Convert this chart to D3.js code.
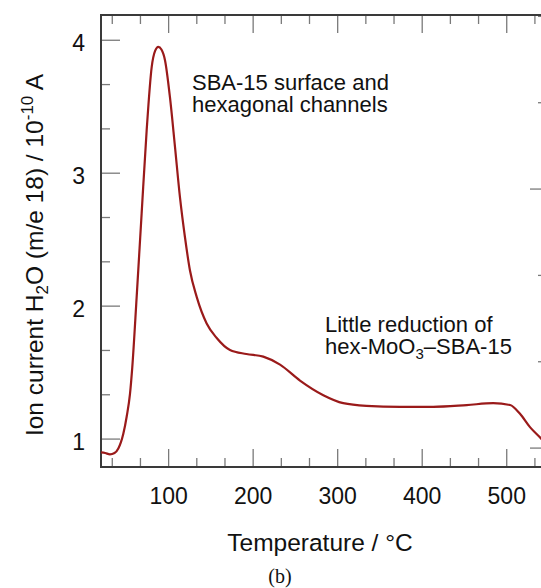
<!DOCTYPE html>
<html>
<head>
<meta charset="utf-8">
<script src="https://cdn.jsdelivr.net/npm/d3@7"></script>
<style>
  html, body { margin: 0; padding: 0; background: #fff; }
  svg { display: block; }
</style>
</head>
<body>
<div id="chart"></div>
<script>
// temperature (°C) and ion current (1e-10 A)
var temps = [20, 25, 30.6, 36, 40.5, 43.5, 46.4, 50.4, 54.3, 57, 62.2, 68.1, 74, 80, 84, 87.8, 91.5, 95.7, 101.6, 107.5, 113.4, 119.3, 125.2, 133.2, 145, 156.9, 172.6, 192, 212, 231.8, 255.4, 283, 306.6, 334, 373.7, 413, 452.6, 484, 504, 515.7, 527.5, 540.5, 548];
var current = [0.9, 0.895, 0.885, 0.895, 0.93, 0.975, 1.04, 1.17, 1.34, 1.54, 2.07, 2.70, 3.32, 3.80, 3.92, 3.95, 3.93, 3.85, 3.57, 3.20, 2.82, 2.52, 2.27, 2.07, 1.87, 1.76, 1.67, 1.64, 1.62, 1.56, 1.44, 1.33, 1.27, 1.25, 1.243, 1.243, 1.256, 1.27, 1.256, 1.19, 1.09, 1.005, 0.95];

var xMajor = [100, 200, 300, 400, 500];
var yMajor = [1, 2, 3, 4];
var y2Major = [1, 2];

(function() {
  var W = 541, H = 588;
  var mL = 101, mR = 549, mT = 15, mB = 467;
  var FONT = 'Arial, "Liberation Sans", Helvetica, sans-serif';

  var svg = d3.select('#chart').append('svg').attr('width', W).attr('height', H);

  var x = d3.scaleLinear().domain([20, 550]).range([mL, mR]);
  var y = d3.scaleLinear().domain([0.79, 4.19]).range([mB, mT]);
  var y2 = d3.scaleLinear().domain([0.927, 2.672]).range([mB, mT]);

  // tick values: majors plus thirds between them
  function thirds(dom) {
    var out = [];
    for (var k = Math.ceil(dom[0] * 3 - 1e-6); k <= Math.floor(dom[1] * 3 + 1e-6); k++) out.push(k / 3);
    return out;
  }
  function isMajor(v, list) { return list.some(function(m) { return Math.abs(m - v) < 1e-6; }); }
  var xTicks = thirds([0.2, 5.5]).map(function(v) { return v * 100; });
  var yTicks = thirds(y.domain());
  var y2Ticks = thirds(y2.domain());

  var tickColor = '#7a7a7a';
  var g = svg.append('g');

  // bottom + top ticks
  xTicks.forEach(function(t) {
    var len = isMajor(t, xMajor) ? 18 : 9;
    g.append('line').attr('x1', x(t)).attr('x2', x(t)).attr('y1', mB).attr('y2', mB - len)
      .attr('stroke', tickColor).attr('stroke-width', 1.3);
    g.append('line').attr('x1', x(t)).attr('x2', x(t)).attr('y1', mT).attr('y2', mT + len)
      .attr('stroke', tickColor).attr('stroke-width', 1.3);
  });
  // left ticks
  yTicks.forEach(function(t) {
    var len = isMajor(t, yMajor) ? 19 : 9;
    g.append('line').attr('x1', mL).attr('x2', mL + len).attr('y1', y(t)).attr('y2', y(t))
      .attr('stroke', tickColor).attr('stroke-width', 1.3);
  });
  // right ticks
  y2Ticks.forEach(function(t) {
    var len = isMajor(t, y2Major) ? 19 : 11;
    g.append('line').attr('x1', mR).attr('x2', mR - len).attr('y1', y2(t)).attr('y2', y2(t))
      .attr('stroke', tickColor).attr('stroke-width', 1.3);
  });

  // frame
  g.append('rect').attr('x', mL).attr('y', mT).attr('width', mR - mL).attr('height', mB - mT)
    .attr('fill', 'none').attr('stroke', '#3a3a3a').attr('stroke-width', 2);

  // tick labels
  xMajor.forEach(function(t) {
    svg.append('text').attr('x', x(t)).attr('y', 504).attr('text-anchor', 'middle')
      .attr('font-family', FONT).attr('font-size', '23px').attr('fill', '#111').text(t);
  });
  yMajor.forEach(function(t) {
    svg.append('text').attr('x', 85).attr('y', y(t) + 11).attr('text-anchor', 'end')
      .attr('font-family', FONT).attr('font-size', '23px').attr('fill', '#111').text(t);
  });

  // curve
  var pts = temps.map(function(t, i) { return [t, current[i]]; });
  svg.append('defs').append('clipPath').attr('id', 'clip').append('rect')
    .attr('x', mL).attr('y', mT).attr('width', mR - mL).attr('height', mB - mT);
  svg.append('path').datum(pts).attr('clip-path', 'url(#clip)')
    .attr('d', d3.line().x(function(d) { return x(d[0]); }).y(function(d) { return y(d[1]); }).curve(d3.curveMonotoneX))
    .attr('fill', 'none').attr('stroke', '#9a1a1a').attr('stroke-width', 2.2).attr('stroke-linejoin', 'round');

  // axis titles
  svg.append('text').attr('x', 320).attr('y', 551).attr('text-anchor', 'middle')
    .attr('font-family', FONT).attr('font-size', '24.5px').attr('fill', '#111').text('Temperature / °C');

  var yl = svg.append('text').attr('transform', 'translate(43,255) rotate(-90)').attr('text-anchor', 'middle')
    .attr('font-family', FONT).attr('font-size', '24.5px').attr('fill', '#111');
  yl.append('tspan').text('Ion current H');
  yl.append('tspan').attr('font-size', '17px').attr('dy', 5).text('2');
  yl.append('tspan').attr('dy', -5).text('O (m/e 18) / 10');
  yl.append('tspan').attr('font-size', '17px').attr('dy', -10).text('-10');
  yl.append('tspan').attr('dy', 10).text(' A');

  // annotations
  var a1 = svg.append('text').attr('font-family', FONT).attr('font-size', '22px').attr('fill', '#111');
  a1.append('tspan').attr('x', 192).attr('y', 90).text('SBA-15 surface and');
  a1.append('tspan').attr('x', 192).attr('y', 112).text('hexagonal channels');

  var a2 = svg.append('text').attr('font-family', FONT).attr('font-size', '22px').attr('fill', '#111');
  a2.append('tspan').attr('x', 325).attr('y', 332).text('Little reduction of');
  a2.append('tspan').attr('x', 325).attr('y', 354).text('hex-MoO');
  a2.append('tspan').attr('font-size', '15px').attr('dy', 5).text('3');
  a2.append('tspan').attr('dy', -5).text('–SBA-15');

  svg.append('text').attr('x', 280).attr('y', 583).attr('text-anchor', 'middle')
    .attr('font-family', '"Liberation Serif", "Times New Roman", serif').attr('font-size', '20px')
    .attr('fill', '#111').text('(b)');
})();
</script>
</body>
</html>
